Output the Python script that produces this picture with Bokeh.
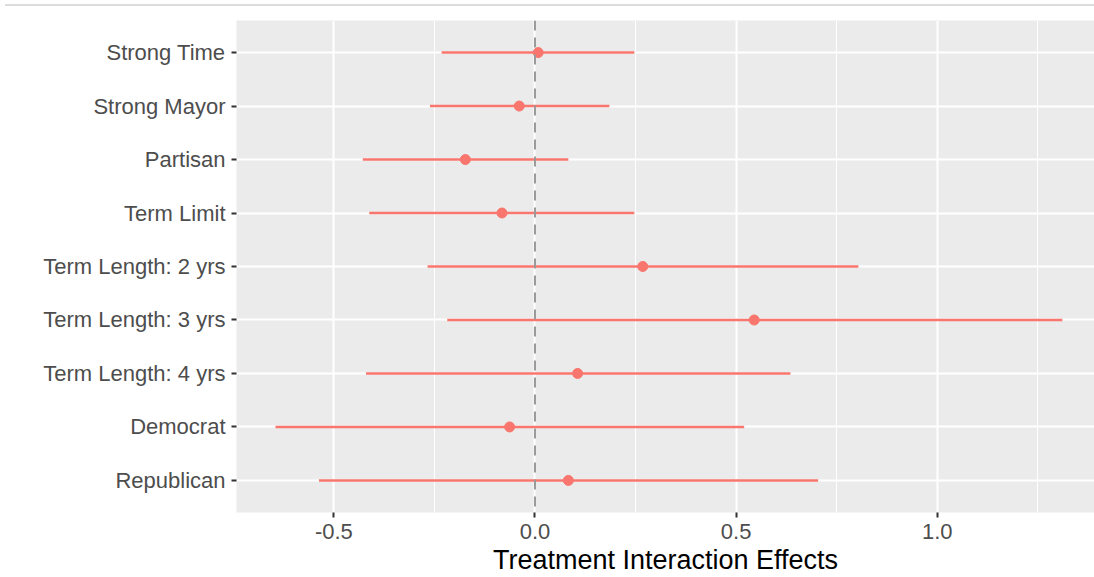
from bokeh.plotting import figure
from bokeh.models import ColumnDataSource, FactorRange, Span, FixedTicker, Div
from bokeh.layouts import column
from bokeh.embed import file_html
from bokeh.resources import INLINE

terms = ["Strong Time", "Strong Mayor", "Partisan", "Term Limit",
         "Term Length: 2 yrs", "Term Length: 3 yrs", "Term Length: 4 yrs",
         "Democrat", "Republican"]
estimate = [0.008, -0.039, -0.173, -0.082, 0.268, 0.545, 0.106, -0.063, 0.083]
lower = [-0.232, -0.261, -0.428, -0.412, -0.267, -0.218, -0.420, -0.645, -0.537]
upper = [0.247, 0.185, 0.083, 0.247, 0.804, 1.311, 0.635, 0.520, 0.704]

x_ticks = [-0.5, 0.0, 0.5, 1.0]
x_tick_labels = ["-0.5", "0.0", "0.5", "1.0"]
x_minor = [-0.75, -0.25, 0.25, 0.75, 1.25]
x_label = "Treatment Interaction Effects"

src = ColumnDataSource(dict(term=terms, est=estimate, lo=lower, hi=upper))

factors = list(reversed(terms))
p = figure(width=1094, height=571, output_backend="svg", toolbar_location=None,
           y_range=FactorRange(*factors, range_padding=0.1, range_padding_units="absolute"),
           x_range=(-0.742, 1.391),
           min_border_left=236, min_border_right=0, min_border_top=14, min_border_bottom=65)

p.background_fill_color = "#EBEBEB"
p.border_fill_color = "white"
p.outline_line_color = None

p.xaxis.ticker = FixedTicker(ticks=x_ticks, minor_ticks=x_minor)
p.xaxis.major_label_overrides = dict(zip(x_ticks, x_tick_labels))
p.xgrid.grid_line_color = "white"
p.xgrid.grid_line_width = 2
p.xgrid.minor_grid_line_color = "white"
p.xgrid.minor_grid_line_width = 1
p.ygrid.grid_line_color = "white"
p.ygrid.grid_line_width = 2

for ax in (p.xaxis, p.yaxis):
    ax.axis_line_color = None
    ax.major_tick_line_color = "#333333"
    ax.major_tick_line_width = 2
    ax.major_tick_out = 5
    ax.major_tick_in = 0
    ax.minor_tick_line_color = None
    ax.major_label_text_color = "#4D4D4D"
    ax.major_label_text_font = "Liberation Sans"
    ax.major_label_text_font_size = "22px"

p.yaxis.major_label_standoff = 6
p.xaxis.major_label_standoff = 6
p.xaxis.axis_label = x_label
p.xaxis.axis_label_text_font = "Liberation Sans"
p.xaxis.axis_label_text_font_style = "normal"
p.xaxis.axis_label_text_font_size = "27px"
p.xaxis.axis_label_text_color = "black"
p.xaxis.axis_label_standoff = 3

p.add_layout(Span(location=0, dimension="height", line_color="#999999",
                  line_width=2, line_dash="10 7"))

p.segment(x0="lo", x1="hi", y0="term", y1="term", source=src,
          line_color="#F8766D", line_width=2.5)
p.scatter(x="est", y="term", source=src, size=10, fill_color="#F8766D",
          line_color="#F8766D")

top = Div(text="", width=1089, height=6, margin=(0, 0, 0, 5),
          styles={"border-bottom": "2px solid #dcdcdc", "box-sizing": "border-box"})

layout = column(top, p, spacing=0)
open("out.html", "w").write(file_html(layout, INLINE))
